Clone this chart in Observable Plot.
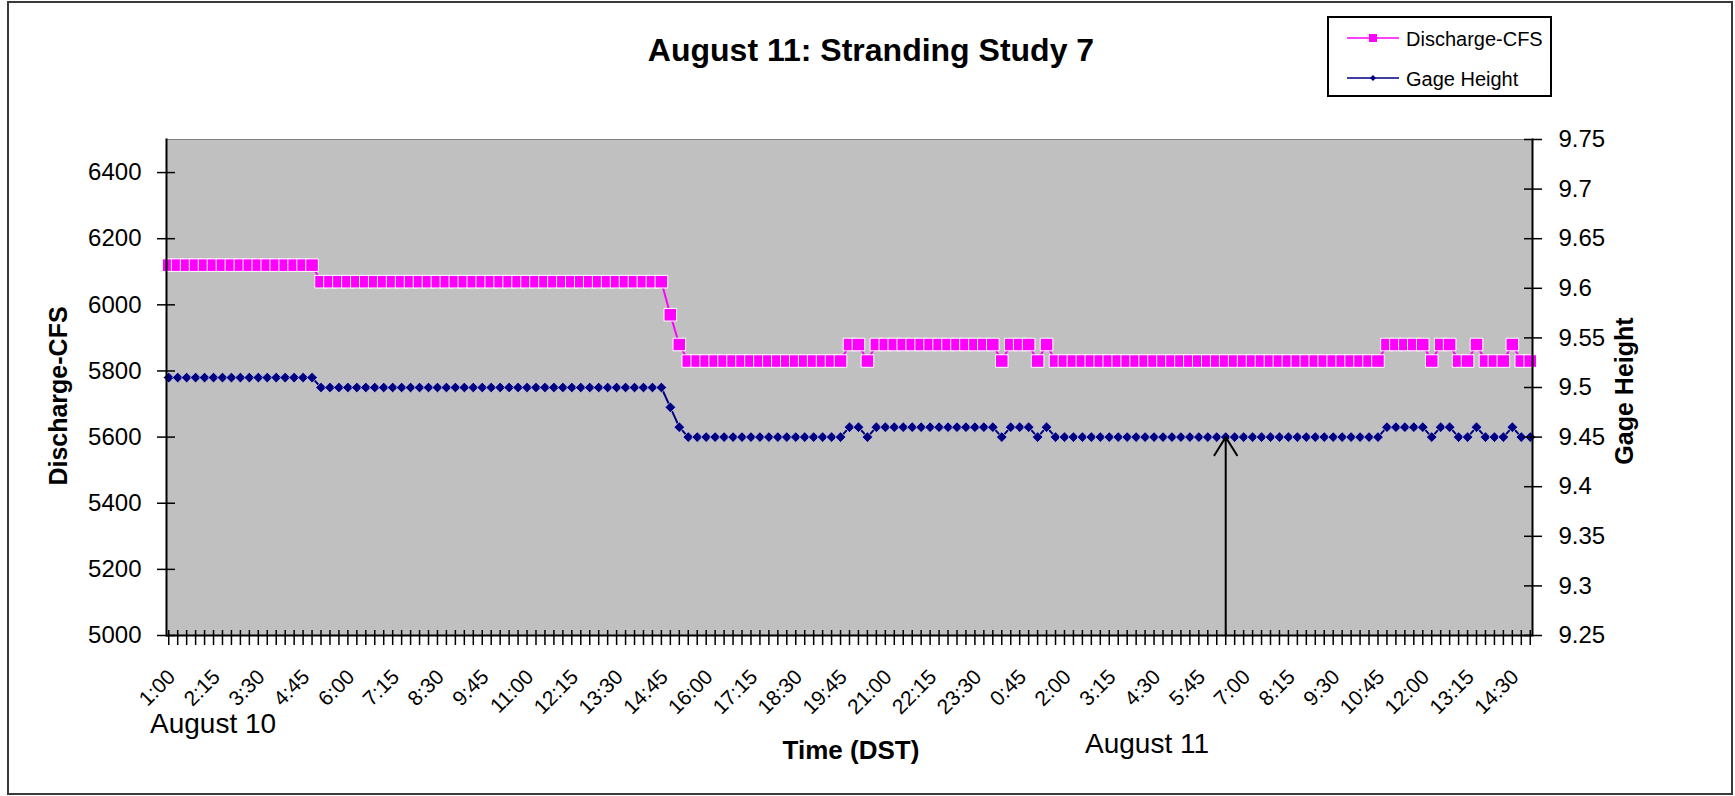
<!DOCTYPE html>
<html>
<head>
<meta charset="utf-8">
<title>August 11: Stranding Study 7</title>
<script src="https://cdn.jsdelivr.net/npm/d3@7"></script>
<script src="https://cdn.jsdelivr.net/npm/@observablehq/plot@0.6"></script>
<style>
  html, body { margin: 0; padding: 0; background: #fff; }
  #chart {
    position: relative; width: 1735px; height: 796px; overflow: hidden;
    font-family: "Liberation Sans", Arial, sans-serif; color: #000;
  }
  #chart > svg { position: absolute; left: 0; top: 0; }
  .border {
    position: absolute; left: 7px; top: 1px; width: 1726px; height: 794px;
    box-sizing: border-box; border: 2px solid #3a3a3a; pointer-events: none;
  }
  .txt { position: absolute; white-space: nowrap; line-height: 1; }
  .title { font-weight: bold; font-size: 32px; left: 871px; top: 34px; transform: translateX(-50%); }
  .ytitle { font-weight: bold; font-size: 25px; transform: translate(-50%, -50%) rotate(-90deg); }
  .xtitle { font-weight: bold; font-size: 26px; left: 851px; top: 737px; transform: translateX(-50%); }
  .day { font-size: 28px; }
  .legend {
    position: absolute; left: 1327px; top: 16px; width: 225px; height: 81px;
    box-sizing: border-box; border: 2px solid #000; background: #fff;
  }
  .legend svg { position: absolute; left: 18px; }
  .legend .lab { position: absolute; left: 77px; font-size: 20px; line-height: 1; white-space: nowrap; }
</style>
</head>
<body>
<div id="chart">
  <div class="border"></div>
  <div class="txt title">August 11: Stranding Study 7</div>
  <div class="legend">
    <svg width="52" height="16" style="top:12px">
      <line x1="0" y1="8" x2="52" y2="8" stroke="#ff00ff" stroke-width="1.5"/>
      <rect x="22" y="4" width="8" height="8" fill="#ff00ff"/>
    </svg>
    <div class="lab" style="top:10.5px">Discharge-CFS</div>
    <svg width="52" height="16" style="top:52px">
      <line x1="0" y1="8" x2="52" y2="8" stroke="#000080" stroke-width="1.5"/>
      <path d="M26,5 L29,8 L26,11 L23,8 Z" fill="#000080"/>
    </svg>
    <div class="lab" style="top:50.5px">Gage Height</div>
  </div>
  <div class="txt ytitle" style="left:58px; top:396px">Discharge-CFS</div>
  <div class="txt ytitle" style="left:1624px; top:391px">Gage Height</div>
  <div class="txt day" style="left:150px; top:710px">August 10</div>
  <div class="txt day" style="left:1085px; top:730px">August 11</div>
  <div class="txt xtitle">Time (DST)</div>
</div>
<script>
// 15-minute readings, 1:00 Aug 10 through 15:00 Aug 11 (DST)
const startMinutes = 60, stepMinutes = 15, readingCount = 153;
const times = d3.range(readingCount).map(k => {
  const m = startMinutes + k * stepMinutes;
  return `${Math.floor(m / 60) % 24}:${String(m % 60).padStart(2, "0")}`;
});

// Discharge, cubic feet per second
const discharge = [
  6120, 6120, 6120, 6120, 6120, 6120, 6120, 6120, 6120, 6120,
  6120, 6120, 6120, 6120, 6120, 6120, 6120, 6070, 6070, 6070,
  6070, 6070, 6070, 6070, 6070, 6070, 6070, 6070, 6070, 6070,
  6070, 6070, 6070, 6070, 6070, 6070, 6070, 6070, 6070, 6070,
  6070, 6070, 6070, 6070, 6070, 6070, 6070, 6070, 6070, 6070,
  6070, 6070, 6070, 6070, 6070, 6070, 5970, 5880, 5830, 5830,
  5830, 5830, 5830, 5830, 5830, 5830, 5830, 5830, 5830, 5830,
  5830, 5830, 5830, 5830, 5830, 5830, 5880, 5880, 5830, 5880,
  5880, 5880, 5880, 5880, 5880, 5880, 5880, 5880, 5880, 5880,
  5880, 5880, 5880, 5830, 5880, 5880, 5880, 5830, 5880, 5830,
  5830, 5830, 5830, 5830, 5830, 5830, 5830, 5830, 5830, 5830,
  5830, 5830, 5830, 5830, 5830, 5830, 5830, 5830, 5830, 5830,
  5830, 5830, 5830, 5830, 5830, 5830, 5830, 5830, 5830, 5830,
  5830, 5830, 5830, 5830, 5830, 5830, 5880, 5880, 5880, 5880,
  5880, 5830, 5880, 5880, 5830, 5830, 5880, 5830, 5830, 5830,
  5880, 5830, 5830
];

// Gage height, feet
const gageHeight = [
  9.51, 9.51, 9.51, 9.51, 9.51, 9.51, 9.51, 9.51, 9.51, 9.51,
  9.51, 9.51, 9.51, 9.51, 9.51, 9.51, 9.51, 9.50, 9.50, 9.50,
  9.50, 9.50, 9.50, 9.50, 9.50, 9.50, 9.50, 9.50, 9.50, 9.50,
  9.50, 9.50, 9.50, 9.50, 9.50, 9.50, 9.50, 9.50, 9.50, 9.50,
  9.50, 9.50, 9.50, 9.50, 9.50, 9.50, 9.50, 9.50, 9.50, 9.50,
  9.50, 9.50, 9.50, 9.50, 9.50, 9.50, 9.48, 9.46, 9.45, 9.45,
  9.45, 9.45, 9.45, 9.45, 9.45, 9.45, 9.45, 9.45, 9.45, 9.45,
  9.45, 9.45, 9.45, 9.45, 9.45, 9.45, 9.46, 9.46, 9.45, 9.46,
  9.46, 9.46, 9.46, 9.46, 9.46, 9.46, 9.46, 9.46, 9.46, 9.46,
  9.46, 9.46, 9.46, 9.45, 9.46, 9.46, 9.46, 9.45, 9.46, 9.45,
  9.45, 9.45, 9.45, 9.45, 9.45, 9.45, 9.45, 9.45, 9.45, 9.45,
  9.45, 9.45, 9.45, 9.45, 9.45, 9.45, 9.45, 9.45, 9.45, 9.45,
  9.45, 9.45, 9.45, 9.45, 9.45, 9.45, 9.45, 9.45, 9.45, 9.45,
  9.45, 9.45, 9.45, 9.45, 9.45, 9.45, 9.46, 9.46, 9.46, 9.46,
  9.46, 9.45, 9.46, 9.46, 9.45, 9.45, 9.46, 9.45, 9.45, 9.45,
  9.46, 9.45, 9.45
];

// Axis ticks
const cfsTicks = [5000, 5200, 5400, 5600, 5800, 6000, 6200, 6400];
const gageTicks = [9.25, 9.3, 9.35, 9.4, 9.45, 9.5, 9.55, 9.6, 9.65, 9.7, 9.75];
const labelEvery = 5;

// Arrow marking the study time (6:30, August 11)
const studyTime = ["6:30"];

// Axis ranges: the gage axis on the right is mapped onto the discharge axis
const cfsDomain = [5000, 6500];
const gageDomain = [9.25, 9.75];
const gageToCfs = d3.scaleLinear(gageDomain, cfsDomain);

const rows = times.map((t, i) => ({i, t, cfs: discharge[i], gage: gageHeight[i]}));
const studyIndex = times.indexOf(studyTime[0], 96); // the August 11 occurrence
const arrows = [{i: studyIndex, from: cfsDomain[0], to: gageToCfs(gageHeight[studyIndex])}];
const labelled = d3.range(0, times.length, labelEvery);
const blank = () => "";

const plot = Plot.plot({
  width: 1735,
  height: 796,
  marginLeft: 166,
  marginRight: 203,
  marginTop: 139,
  marginBottom: 161,
  style: {fontFamily: "'Liberation Sans', Arial, sans-serif", fontSize: "24px", color: "#000", background: "transparent"},
  x: {type: "point", domain: d3.range(times.length), padding: 0.25, label: null},
  y: {domain: cfsDomain, label: null},
  marks: [
    Plot.frame({fill: "#c0c0c0", stroke: "#808080"}),

    // Discharge
    Plot.line(rows, {x: "i", y: "cfs", stroke: "#ff00ff", strokeWidth: 2}),
    Plot.dot(rows, {x: "i", y: "cfs", symbol: "square", r: 7.1, fill: "#ff00ff", stroke: "#ffffff", strokeWidth: 1}),

    // Gage height (right axis)
    Plot.line(rows, {x: "i", y: d => gageToCfs(d.gage), stroke: "#000080", strokeWidth: 2}),
    Plot.dot(rows, {x: "i", y: d => gageToCfs(d.gage), symbol: "diamond2", r: 4.8, fill: "#000080", stroke: "#d4d4ec", strokeWidth: 0.7}),

    // Study-time arrow
    Plot.arrow(arrows, {x1: "i", x2: "i", y1: "from", y2: "to", stroke: "#000", strokeWidth: 2, headLength: 16, headAngle: 64}),

    // Axis lines
    Plot.frame({anchor: "left", stroke: "#000", strokeWidth: 2}),
    Plot.frame({anchor: "right", stroke: "#000", strokeWidth: 2}),
    Plot.ruleY([cfsDomain[0]], {stroke: "#000", strokeWidth: 2}),

    // Left axis: crossing ticks, then labels
    Plot.axisY(cfsTicks, {anchor: "left", tickSize: 18, dx: 9, tickFormat: blank, strokeWidth: 1.5, label: null}),
    Plot.axisY(cfsTicks, {anchor: "left", tickSize: 0, tickPadding: 25, label: null, tickFormat: d => String(d)}),

    // Right axis (gage height)
    Plot.axisY(gageTicks.map(gageToCfs), {anchor: "right", tickSize: 18, dx: -9, tickFormat: blank, strokeWidth: 1.5, label: null}),
    Plot.axisY(gageTicks.map(gageToCfs), {anchor: "right", tickSize: 0, tickPadding: 26, label: null,
      tickFormat: d => String(+gageToCfs.invert(d).toFixed(2))}),

    // Time axis: a tick at every reading, a label at every fifth
    Plot.axisX(d3.range(times.length), {anchor: "bottom", tickSize: 15, dy: -5, tickFormat: blank, strokeWidth: 1.5, label: null}),
    Plot.axisX(labelled, {anchor: "bottom", tickSize: 0, tickPadding: 38, tickRotate: -45, textAnchor: "end", lineAnchor: "middle",
      dx: 3, fontSize: 21, tickFormat: i => times[i], label: null})
  ]
});

document.getElementById("chart").prepend(plot);
</script>
</body>
</html>
